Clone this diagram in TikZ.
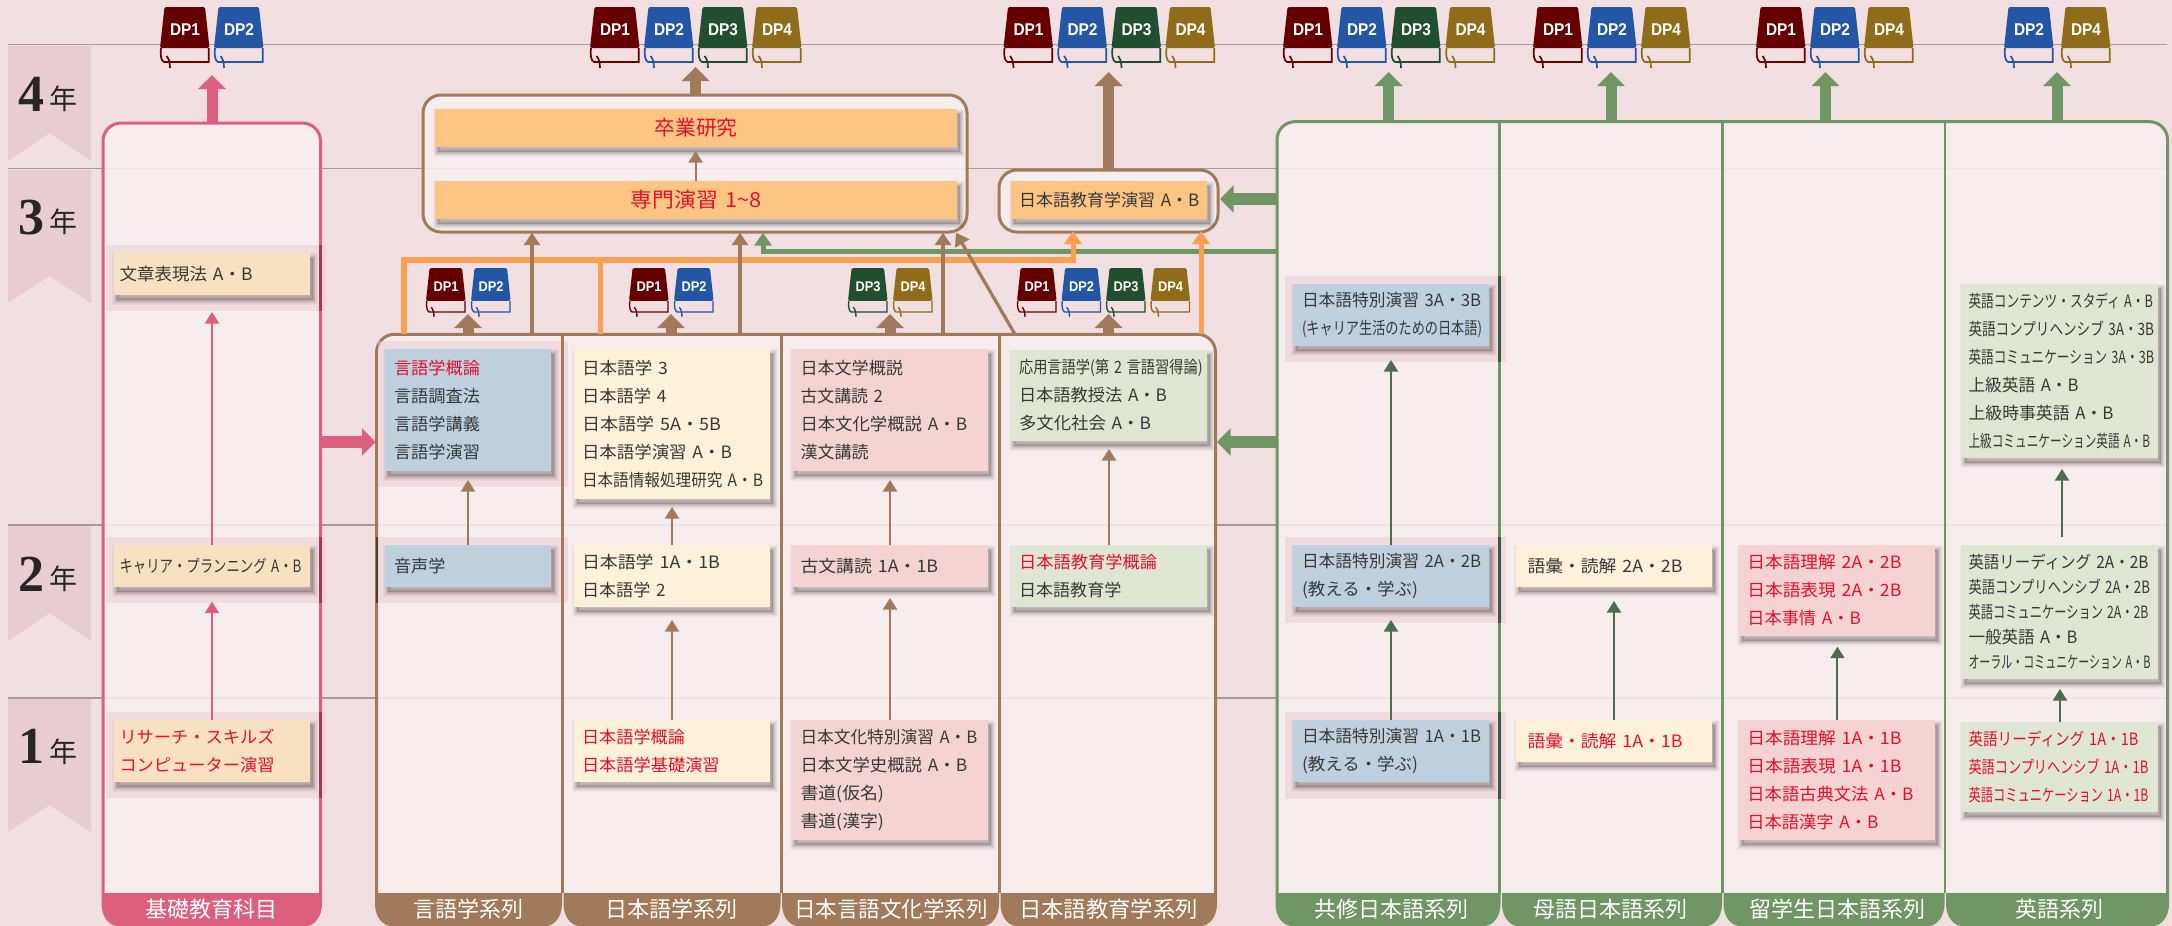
\documentclass[tikz,border=0pt]{standalone}
\usepackage{fontspec}
\usepackage{graphicx}
\setmainfont{Noto Sans CJK JP}
\newfontfamily\dpfont{Liberation Sans}
\newfontfamily\yearfont{Liberation Serif}
\usetikzlibrary{arrows.meta}
\definecolor{bgc}{HTML}{F2DFE2}
\definecolor{ribc}{HTML}{EACDD3}
\definecolor{gridc}{HTML}{A89A9C}
\definecolor{secfill}{HTML}{F9F0F2}
\definecolor{pinkc}{HTML}{DC5F7D}
\definecolor{brownc}{HTML}{A07A5A}
\definecolor{greenc}{HTML}{6F9664}
\definecolor{dgreenc}{HTML}{4C6E4E}
\definecolor{orangec}{HTML}{FD9F50}
\definecolor{redt}{HTML}{E60F2B}
\definecolor{inkc}{HTML}{383838}
\definecolor{shc}{HTML}{4A3A3C}
\definecolor{bsand}{HTML}{F8E1C1}
\definecolor{bblue}{HTML}{BFD1DF}
\definecolor{bcream}{HTML}{FDF2D9}
\definecolor{brose}{HTML}{F5D3D3}
\definecolor{bsage}{HTML}{DFE6D3}
\definecolor{borange}{HTML}{FDC584}
\definecolor{dpa}{HTML}{660000}
\definecolor{dpb}{HTML}{2356A4}
\definecolor{dpc}{HTML}{214D30}
\definecolor{dpd}{HTML}{8E6C1A}
\newcommand\tx[2]{\resizebox{#1pt}{\height}{#2}}
\newcommand\rx[2]{\resizebox{#1pt}{\height}{\textcolor{redt}{#2}}}
\newcount\bookno
% x, y, scale, colour, label, label size, label width
\newcommand\dpbook[7]{%
  \global\advance\bookno by 1
  \begin{scope}[shift={(#1,#2)},scale=#3]
    \fill[#4,rounded corners=1.5pt] (4.5,0) -- (45,0) -- (49.5,41) -- (0,41) -- cycle;
    \draw[#4,line width=#3*1.7pt] (1,41) .. controls (0,47) and (1,54) .. (4,55) -- (48.7,55) -- (48.7,41);
    \draw[#4,line width=#3*1.7pt] (6.5,49) .. controls (8.5,51) and (10,55) .. (10,61);
    \node[text=white,font=\dpfont\bfseries\fontsize{#6}{#6}\selectfont,inner sep=0pt] (book\the\bookno) at (25,23) {\resizebox{#7pt}{\height}{#5}};
  \end{scope}}
\newcommand\sband[6]{%
  \pgfmathsetmacro\xa{#2+16}%
  \pgfmathsetmacro\xb{#3-16}%
  \fill[#4] (#2,893) -- (#3,893) -- (#3,904) .. controls (#3,917) and (\xb+8,926) .. (\xb,926) -- (\xa,926) .. controls (\xa-8,926) and (#2,917) .. (#2,904) -- cycle;
  \node[bandtext] (#1) at (#6,909.5) {#5};}
\newcommand\ribbon[3]{%
  \fill[ribc] (8,#1) -- (91,#1) -- (91,#3) -- (49.5,#2) -- (8,#3) -- cycle;}
\tikzset{
  gridline/.style={draw=gridc,line width=1.5pt},
  secbox/.style={rectangle,anchor=north west,inner sep=0pt,outer sep=0pt,fill=secfill,fill opacity=.85,line width=3pt,rounded corners=18pt},
  cell/.style={rectangle,anchor=north west,inner sep=0pt,outer sep=0pt},
  hlband/.style={rectangle,anchor=north west,inner sep=0pt,outer sep=0pt,fill=ribc,fill opacity=.5},
  softshadow/.style={
    preaction={draw=shc,draw opacity=.04,line width=10pt,transform canvas={xshift=3pt,yshift=-5pt}},
    preaction={draw=shc,draw opacity=.05,line width=8pt,transform canvas={xshift=3pt,yshift=-5pt}},
    preaction={draw=shc,draw opacity=.07,line width=6pt,transform canvas={xshift=3pt,yshift=-5pt}},
    preaction={draw=shc,draw opacity=.09,line width=4pt,transform canvas={xshift=3pt,yshift=-5pt}},
    preaction={draw=shc,draw opacity=.11,line width=2pt,transform canvas={xshift=3pt,yshift=-5pt}},
    preaction={fill=shc,fill opacity=.25,transform canvas={xshift=3pt,yshift=-5pt}}},
  box/.style n args={4}{rectangle,anchor=north west,inner ysep=0pt,outer sep=0pt,inner xsep=#3pt,
    /utils/exec={\pgfmathsetlengthmacro\boxtw{#2-2*#3}},text width=\boxtw,
    minimum height=#4pt,align=left,fill=#1,softshadow,text=inkc,font=\fontsize{17}{28}\selectfont},
  bandtext/.style={text=white,inner sep=0pt,font=\fontsize{22}{22}\selectfont},
  fat/.style={line width=11pt,-{Triangle[length=14pt,width=27pt]}},
  fatside/.style={line width=11.7pt,-{Triangle[length=13.5pt,width=26.7pt]}},
  midarrow/.style={line width=3.2pt,-{Triangle[length=12.5pt,width=16pt]}},
  busarrow/.style={line width=5pt,-{Triangle[length=13pt,width=17pt]}},
  thinarrow/.style={line width=2pt,-{Triangle[length=11.5pt,width=14pt]}},
  yearnum/.style={inner sep=0pt,text=black!85,font=\yearfont\bfseries\fontsize{52}{52}\selectfont},
  yearkanji/.style={inner sep=0pt,text=black!85,font=\fontsize{28}{28}\selectfont},
}
\begin{document}
\begin{tikzpicture}[x=1pt,y=-1pt]
\useasboundingbox (0,0) rectangle (2172,926);
\fill[bgc] (0,0) rectangle (2172,926);
% year ribbons
\ribbon{46}{133}{161}
\ribbon{170}{276}{303}
\ribbon{526}{613}{641}
\ribbon{699}{805}{832}
\node[yearnum] (y4) at (32,94) {4};
\node[yearkanji] (n4) at (63.5,99) {年};
\node[yearnum] (y3) at (32,217.5) {3};
\node[yearkanji] (n3) at (63.5,222) {年};
\node[yearnum] (y2) at (32,574) {2};
\node[yearkanji] (n2) at (63.5,579) {年};
\node[yearnum] (y1) at (32,746) {1};
\node[yearkanji] (n1) at (63.5,752) {年};
% grid
\draw[gridline] (8,44.7) -- (2167,44.7);
\draw[gridline] (8,168.7) -- (2167,168.7);
\draw[gridline] (8,525) -- (2167,525);
\draw[gridline] (8,698) -- (2167,698);
% section frames
\node[secbox,draw=brownc,minimum width=544pt,minimum height=137pt] (senmon) at (423,95) {};
\node[secbox,draw=pinkc,minimum width=217.5pt,minimum height=789pt] (kiso) at (103,123) {};
\node[secbox,draw=brownc,minimum width=839pt,minimum height=577.7pt] (gakka) at (376.5,334.3) {};
\node[secbox,draw=greenc,minimum width=890.5pt,minimum height=790.3pt] (kyoshu) at (1277,121.7) {};
\node[secbox,draw=brownc,minimum width=219pt,minimum height=62pt] (kframe) at (999,170) {};
% cells
\node[cell,minimum width=185.5pt,minimum height=558.7pt] (c1) at (376.5,334.3) {};
\node[cell,minimum width=219pt,minimum height=558.7pt] (c2) at (562,334.3) {};
\node[cell,minimum width=218.4pt,minimum height=558.7pt] (c3) at (781,334.3) {};
\node[cell,minimum width=216.2pt,minimum height=558.7pt] (c4) at (999.4,334.3) {};
\node[cell,minimum width=222.7pt,minimum height=771.3pt] (k1) at (1277,121.7) {};
\node[cell,minimum width=222.8pt,minimum height=771.3pt] (k2) at (1499.7,121.7) {};
\node[cell,minimum width=222.5pt,minimum height=771.3pt] (k3) at (1722.5,121.7) {};
\node[cell,minimum width=222.5pt,minimum height=771.3pt] (k4) at (1945,121.7) {};
% highlight bands
\node[hlband,minimum width=220pt,minimum height=66pt] (ha3) at (106,245) {};
\node[hlband,minimum width=220pt,minimum height=66pt] (ha2) at (106,537) {};
\node[hlband,minimum width=220pt,minimum height=86pt] (ha1) at (106,712) {};
\node[hlband,minimum width=190.5pt,minimum height=146pt] (hb3) at (377.5,341) {};
\node[hlband,minimum width=190.5pt,minimum height=66pt] (hb2) at (377.5,537) {};
\node[hlband,minimum width=221pt,minimum height=86pt] (hc3) at (1285,276) {};
\node[hlband,minimum width=221pt,minimum height=86pt] (hc2) at (1285,537) {};
\node[hlband,minimum width=221pt,minimum height=87pt] (hc1) at (1285,712) {};
\draw[line width=3pt,draw=black!30!pinkc!85!red] (ha3.north -| kiso.east) -- (ha3.south -| kiso.east);
\draw[line width=3pt,draw=black!30!pinkc!85!red] (ha2.north -| kiso.east) -- (ha2.south -| kiso.east);
\draw[line width=3pt,draw=black!30!pinkc!85!red] (ha1.north -| kiso.east) -- (ha1.south -| kiso.east);
\draw[line width=2pt,draw=black!50!brownc] (hb2.north -| gakka.west) -- (hb2.south -| gakka.west);
% dividers
\foreach \c in {c1,c2,c3} {\draw[brownc,line width=3pt] (\c.north east) -- (\c.south east);}
\foreach \c in {k1,k2,k3} {\draw[greenc,line width=2.5pt] (\c.north east) -- (\c.south east);}
\draw[line width=2.5pt,draw=dgreenc!80!black] (hc3.north -| k1.east) -- (hc3.south -| k1.east);
\draw[line width=2.5pt,draw=dgreenc!80!black] (hc2.north -| k1.east) -- (hc2.south -| k1.east);
\draw[line width=2.5pt,draw=dgreenc!80!black] (hc1.north -| k1.east) -- (hc1.south -| k1.east);
% background notches between the bottom bands
\fill[bgc] (101,893) rectangle (323,926);
\fill[bgc] (374,893) rectangle (1218,926);
\fill[bgc] (1274,893) rectangle (2170,926);
% bottom bands
\sband{lkiso}{101.5}{322}{pinkc}{基礎教育科目}{211}
\sband{lc1}{375}{562}{brownc}{言語学系列}{468}
\sband{lc2}{563.5}{780.5}{brownc}{日本語学系列}{671}
\sband{lc3}{782}{999}{brownc}{\resizebox{194pt}{\height}{日本言語文化学系列}}{891}
\sband{lc4}{1000.5}{1217}{brownc}{\resizebox{179pt}{\height}{日本語教育学系列}}{1108.6}
\sband{lk1}{1275.5}{1500.5}{greenc}{共修日本語系列}{1391}
\sband{lk2}{1502}{1722}{greenc}{母語日本語系列}{1610}
\sband{lk3}{1723.5}{1944.5}{greenc}{留学生日本語系列}{1837}
\sband{lk4}{1946}{2169}{greenc}{英語系列}{2059}
% free ends
\coordinate (tkiso) at (212,75);
\coordinate (tsen) at (695.6,67);
\coordinate (tfr) at (1108.6,72);
\coordinate (tk1) at (1388.6,72);
\coordinate (tk2) at (1611,72);
\coordinate (tk3) at (1825.5,72);
\coordinate (tk4) at (2057,72);
\coordinate (sb1) at (468,314);
\coordinate (sb2) at (671,314);
\coordinate (sb3) at (890,314);
\coordinate (sb4) at (1108.6,314);
\coordinate (gbusR) at (1277,251.7);
\coordinate (gbusL) at (763,251.7);
\coordinate (gbusT) at (763,232.7);
\coordinate (gside1) at (1220,199);
\coordinate (gside2) at (1217,442);
\coordinate (pside) at (375.5,442);
\coordinate (oL) at (404,260);
\coordinate (oM) at (600.5,260);
\coordinate (oR) at (1073,260);
\coordinate (oRT) at (1073,231);
\coordinate (oV) at (1201,334.3);
\coordinate (oVT) at (1201,231);
\coordinate (brA) at (532,232.7);
\coordinate (brB) at (740,232.7);
\coordinate (brC) at (943,232.7);
\coordinate (brDs) at (1015,334.3);
\coordinate (brDe) at (956,232.7);
% thick connectors
\draw[fat,pinkc] (tkiso |- kiso.north) -- (tkiso);
\draw[fat,brownc] (tsen |- senmon.north) -- (tsen);
\draw[fat,brownc] (tfr |- kframe.north) -- (tfr);
\foreach \t/\k in {tk1/k1,tk2/k2,tk3/k3,tk4/k4} {\draw[fat,greenc] (\t |- \k.north) -- (\t);}
\foreach \t/\k in {sb1/c1,sb2/c2,sb3/c3,sb4/c4} {\draw[fat,brownc] (\t |- \k.north) -- (\t);}
\draw[fatside,pinkc] (gside2 -| kiso.east) -- (pside);
\draw[fatside,greenc] (gside1 -| k1.west) -- (gside1);
\draw[fatside,greenc] (gside2 -| k1.west) -- (gside2);
\draw[busarrow,greenc] (gbusR) -- (gbusL) -- (gbusT);
\draw[orangec,line width=5.5pt] (oL |- c1.north) -- (oL) -- (oR);
\draw[orangec,line width=5.5pt] (oM |- c2.north) -- (oM);
\draw[busarrow,orangec] (oL) -- (oR) -- (oRT);
\draw[busarrow,orangec] (oV) -- (oVT);
\draw[midarrow,brownc] (brA |- c1.north) -- (brA);
\draw[midarrow,brownc] (brB |- c2.north) -- (brB);
\draw[midarrow,brownc] (brC |- c3.north) -- (brC);
\draw[midarrow,brownc] (brDs) -- (brDe);
% boxes
\node[box={borange}{522}{8}{38},align=center,font=\fontsize{20.7}{24}\selectfont] (sotsu) at (435,109) {\rx{83}{卒業研究}};
\node[box={borange}{522}{8}{38},align=center,font=\fontsize{20.7}{24}\selectfont] (enshu) at (435,181) {\rx{131}{専門演習 1\textasciitilde 8}};
\node[box={borange}{196}{8}{38}] (kenshu) at (1011,181) {\tx{180.4}{日本語教育学演習 A・B}};
\node[box={bsand}{196}{5.5}{42}] (a3) at (114,253) {\tx{133}{文章表現法 A・B}};
\node[box={bsand}{196}{5.5}{42}] (a2) at (114,545) {\tx{182}{キャリア・プランニング A・B}};
\node[box={bsand}{196}{5.5}{62}] (a1) at (114,720) {\rx{155}{リサーチ・スキルズ}\\\rx{155}{コンピューター演習}};
\node[box={bblue}{166}{9}{122}] (b3) at (385,349) {\rx{86}{言語学概論}\\\tx{86}{言語調査法}\\\tx{86}{言語学講義}\\\tx{86}{言語学演習}};
\node[box={bblue}{166}{9}{42}] (b2) at (385,545) {\tx{51.4}{音声学}};
\node[box={bcream}{196}{8}{150}] (d3) at (574,349) {\tx{86}{日本語学 3}\\\tx{84.5}{日本語学 4}\\\tx{139}{日本語学 5A・5B}\\\tx{150}{日本語学演習 A・B}\\\tx{181}{日本語情報処理研究 A・B}};
\node[box={bcream}{196}{8}{62}] (d2) at (574,545) {\tx{138}{日本語学 1A・1B}\\\tx{83.5}{日本語学 2}};
\node[box={bcream}{196}{8}{62}] (d1) at (574,720) {\rx{103}{日本語学概論}\\\rx{137.7}{日本語学基礎演習}};
\node[box={brose}{196}{8.5}{122}] (e3) at (792,349) {\tx{102.4}{日本文学概説}\\\tx{82.6}{古文講読 2}\\\tx{166.7}{日本文化学概説 A・B}\\\tx{68}{漢文講読}};
\node[box={brose}{196}{8.5}{42}] (e2) at (792,545) {\tx{137.7}{古文講読 1A・1B}};
\node[box={brose}{196}{8.5}{120}] (e1) at (792,720) {\tx{176.8}{日本文化特別演習 A・B}\\\tx{166.7}{日本文学史概説 A・B}\\\tx{83.5}{書道(仮名)}\\\tx{83.5}{書道(漢字)}};
\node[box={bsage}{196}{8}{91}] (f3) at (1011,350) {\tx{183.7}{応用言語学(第 2 言語習得論)}\\\tx{148}{日本語教授法 A・B}\\\tx{132}{多文化社会 A・B}};
\node[box={bsage}{196}{8}{62}] (f2) at (1011,545) {\rx{138}{日本語教育学概論}\\\tx{102.4}{日本語教育学}};
\node[box={bblue}{196}{9}{62}] (g3) at (1293,284) {\tx{179}{日本語特別演習 3A・3B}\\\tx{180}{(キャリア生活のための日本語)}};
\node[box={bblue}{196}{9}{62}] (g2) at (1293,545) {\tx{179}{日本語特別演習 2A・2B}\\\tx{116}{(教える・学ぶ)}};
\node[box={bblue}{196}{9}{62}] (g1) at (1293,720) {\tx{179}{日本語特別演習 1A・1B}\\\tx{116}{(教える・学ぶ)}};
\node[box={bcream}{196}{11.5}{42}] (h2) at (1516,545) {\tx{155}{語彙・読解 2A・2B}};
\node[box={bcream}{196}{11.5}{42}] (h1) at (1516,720) {\rx{155}{語彙・読解 1A・1B}};
\node[box={brose}{196}{8}{91}] (i2) at (1739.4,545) {\rx{154}{日本語理解 2A・2B}\\\rx{154}{日本語表現 2A・2B}\\\rx{113.4}{日本事情 A・B}};
\node[box={brose}{196}{8}{120}] (i1) at (1739.4,720) {\rx{154}{日本語理解 1A・1B}\\\rx{154}{日本語表現 1A・1B}\\\rx{166}{日本語古典文法 A・B}\\\rx{131}{日本語漢字 A・B}};
\node[box={bsage}{196}{6.5}{174}] (j3) at (1962,284) {\tx{184.4}{英語コンテンツ・スタディ A・B}\\\tx{185.6}{英語コンプリヘンシブ 3A・3B}\\\tx{185.6}{英語コミュニケーション 3A・3B}\\\tx{110}{上級英語 A・B}\\\tx{145}{上級時事英語 A・B}\\\tx{181.5}{上級コミュニケーション英語 A・B}};
\node[box={bsage}{196}{6.5}{134},font=\fontsize{17}{25}\selectfont] (j2) at (1962,545) {\tx{180}{英語リーディング 2A・2B}\\\tx{181.5}{英語コンプリヘンシブ 2A・2B}\\\tx{180}{英語コミュニケーション 2A・2B}\\\tx{109}{一般英語 A・B}\\\tx{182}{オーラル・コミュニケーション A・B}};
\node[box={bsage}{196}{6.5}{90}] (j1) at (1962,722) {\rx{170}{英語リーディング 1A・1B}\\\rx{180}{英語コンプリヘンシブ 1A・1B}\\\rx{180}{英語コミュニケーション 1A・1B}};
% thin connectors
\draw[thinarrow,brownc] (enshu.north -| tsen) -- ([yshift=-4pt]sotsu.south -| tsen);
\draw[thinarrow,pinkc] (a2.north) -- ([yshift=-17pt]a3.south);
\draw[thinarrow,pinkc] (a1.north) -- ([yshift=-14.7pt]a2.south);
\draw[thinarrow,brownc] (b2.north) -- ([yshift=-9pt]b3.south);
\draw[thinarrow,brownc] (d2.north) -- ([yshift=-8pt]d3.south);
\draw[thinarrow,brownc] (d1.north) -- ([yshift=-13pt]d2.south);
\draw[thinarrow,brownc] (e2.north) -- ([yshift=-9pt]e3.south);
\draw[thinarrow,brownc] (e1.north) -- ([yshift=-11pt]e2.south);
\draw[thinarrow,brownc] (f2.north) -- ([yshift=-8pt]f3.south);
\draw[thinarrow,dgreenc] (g2.north) -- ([yshift=-14pt]g3.south);
\draw[thinarrow,dgreenc] (g1.north) -- ([yshift=-13pt]g2.south);
\draw[thinarrow,dgreenc] (h1.north) -- ([yshift=-14pt]h2.south);
\draw[thinarrow,dgreenc] (i1.north) -- ([yshift=-10.7pt]i2.south);
\draw[thinarrow,dgreenc] ([yshift=8pt,xshift=2pt]j2.north) -- ([yshift=-11pt,xshift=2pt]j3.south);
\draw[thinarrow,dgreenc] (j1.north) -- ([yshift=-10pt]j2.south);
% books
\foreach \x/\c/\l in {160/dpa/DP1,214/dpb/DP2,590/dpa/DP1,644/dpb/DP2,698/dpc/DP3,752/dpd/DP4,1003.5/dpa/DP1,1057.5/dpb/DP2,1111.5/dpc/DP3,1165.5/dpd/DP4,1283/dpa/DP1,1337/dpb/DP2,1391/dpc/DP3,1445.5/dpd/DP4,1533/dpa/DP1,1587/dpb/DP2,1641/dpd/DP4,1756/dpa/DP1,1810/dpb/DP2,1864/dpd/DP4,2004/dpb/DP2,2061/dpd/DP4}
  {\dpbook{\x}{7}{1}{\c}{\l}{17}{30}}
\foreach \x/\c/\l in {426/dpa/DP1,471/dpb/DP2,629/dpa/DP1,674/dpb/DP2,848/dpc/DP3,893/dpd/DP4,1017/dpa/DP1,1061.5/dpb/DP2,1106/dpc/DP3,1150.5/dpd/DP4}
  {\dpbook{\x}{268}{.8}{\c}{\l}{14}{25}}
\end{tikzpicture}
\end{document}
